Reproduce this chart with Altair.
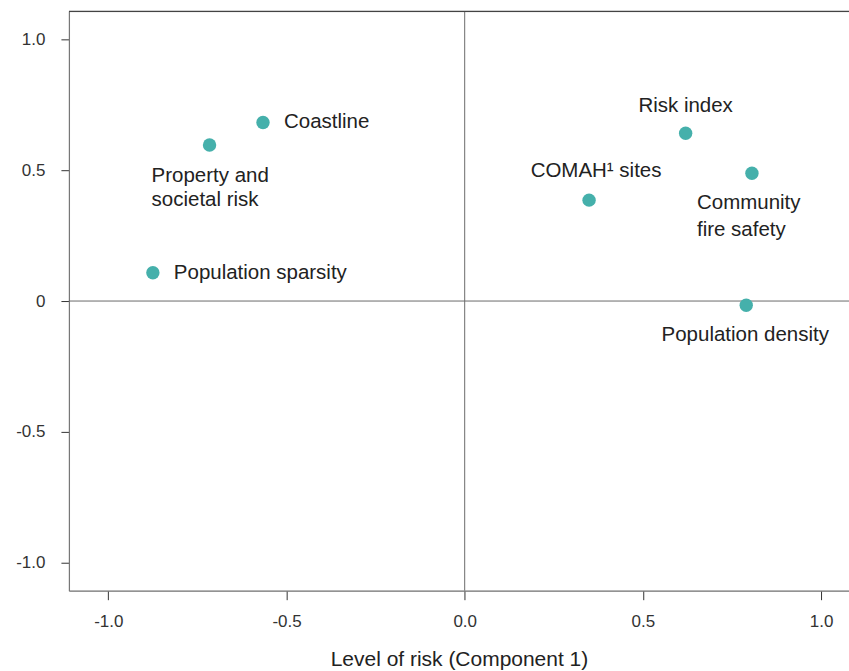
import altair as alt
import pandas as pd

# ---- data ----
names = ["Coastline", "Property and\nsocietal risk", "Population sparsity",
         "Risk index", "COMAH\u00b9 sites", "Community\nfire safety", "Population density"]
comp1 = [-0.566, -0.716, -0.875, 0.620, 0.349, 0.806, 0.790]
comp2 = [0.683, 0.597, 0.108, 0.642, 0.386, 0.489, -0.016]

x_ticks = [-1.0, -0.5, 0.0, 0.5, 1.0]
x_tick_labels = ["-1.0", "-0.5", "0.0", "0.5", "1.0"]
y_ticks = [-1.0, -0.5, 0.0, 0.5, 1.0]
y_tick_labels = ["-1.0", "-0.5", "0", "0.5", "1.0"]

x_title = "Level of risk (Component 1)"

df = pd.DataFrame({"name": names, "c1": comp1, "c2": comp2})

# ---- styles (label placement relative to each dot) ----
label_style = {
    "Coastline": dict(align="left", dx=21, dy=0, lineHeight=25),
    "Property and\nsocietal risk": dict(align="left", dx=-58, dy=31, lineHeight=24.5),
    "Population sparsity": dict(align="left", dx=21, dy=0, lineHeight=25),
    "Risk index": dict(align="center", dx=0, dy=-27, lineHeight=25),
    "COMAH\u00b9 sites": dict(align="center", dx=7, dy=-29, lineHeight=25),
    "Community\nfire safety": dict(align="left", dx=-55, dy=30, lineHeight=27),
    "Population density": dict(align="center", dx=-1, dy=30, lineHeight=25),
}

FONT = "Liberation Sans"
W, H = 781, 580
XDOM = [-1.1106, 1.0784]
YDOM = [-1.108, 1.108]


def label_expr(vals, labs):
    parts = " : ".join(
        f"datum.value == {v} ? '{l}'" for v, l in zip(vals, labs)
    )
    return parts + " : ''"


xscale = alt.Scale(domain=XDOM, nice=False, zero=False)
yscale = alt.Scale(domain=YDOM, nice=False, zero=False)

xenc = alt.X(
    "c1:Q", scale=xscale,
    axis=alt.Axis(values=x_ticks, labelExpr=label_expr(x_ticks, x_tick_labels),
                  title=x_title, grid=False, domainColor="#777", domainWidth=1.2,
                  tickColor="#333", tickSize=9, labelPadding=14, labelFontSize=17,
                  labelFont=FONT, labelColor="#333", titleFont=FONT, titleFontSize=21,
                  titleFontWeight="normal", titleColor="#222", titlePadding=19,
                  labelFlush=False),
)
yenc = alt.Y(
    "c2:Q", scale=yscale,
    axis=alt.Axis(values=y_ticks, labelExpr=label_expr(y_ticks, y_tick_labels),
                  title=None, grid=False, domainColor="#777", domainWidth=1.2,
                  tickColor="#333", tickSize=8, labelPadding=16, labelFontSize=17,
                  labelFont=FONT, labelColor="#333", labelFlush=False),
)

base = alt.Chart(df)

zero_v = alt.Chart(pd.DataFrame({"v": [0.0]})).mark_rule(color="#6a6a6a", strokeWidth=1).encode(
    x=alt.X("v:Q", scale=xscale))
zero_h = alt.Chart(pd.DataFrame({"v": [0.0]})).mark_rule(color="#6a6a6a", strokeWidth=1).encode(
    y=alt.Y("v:Q", scale=yscale))
top_line = alt.Chart(pd.DataFrame({"v": [0]})).mark_rule(color="#444", strokeWidth=1.2).encode(
    y=alt.value(0), x=alt.value(0), x2=alt.value(W))

points = base.mark_circle(size=180, color="#45B0AB", opacity=1).encode(x=xenc, y=yenc)

texts = []
for n in names:
    st = label_style[n]
    texts.append(
        base.transform_filter(alt.datum.name == n).mark_text(
            font=FONT, fontSize=20.5, color="#222", baseline="middle",
            lineBreak="\n", **st
        ).encode(x=alt.X("c1:Q", scale=xscale), y=alt.Y("c2:Q", scale=yscale), text="name:N")
    )

chart = alt.layer(zero_v, zero_h, top_line, points, *texts).properties(
    width=W, height=H,
    autosize=alt.AutoSizeParams(type="none"),
    padding={"left": 69, "top": 11, "right": 0, "bottom": 80},
).configure_view(stroke=None).configure(background="white")

chart.save("out.html", embed_options={"renderer": "svg", "actions": False})
